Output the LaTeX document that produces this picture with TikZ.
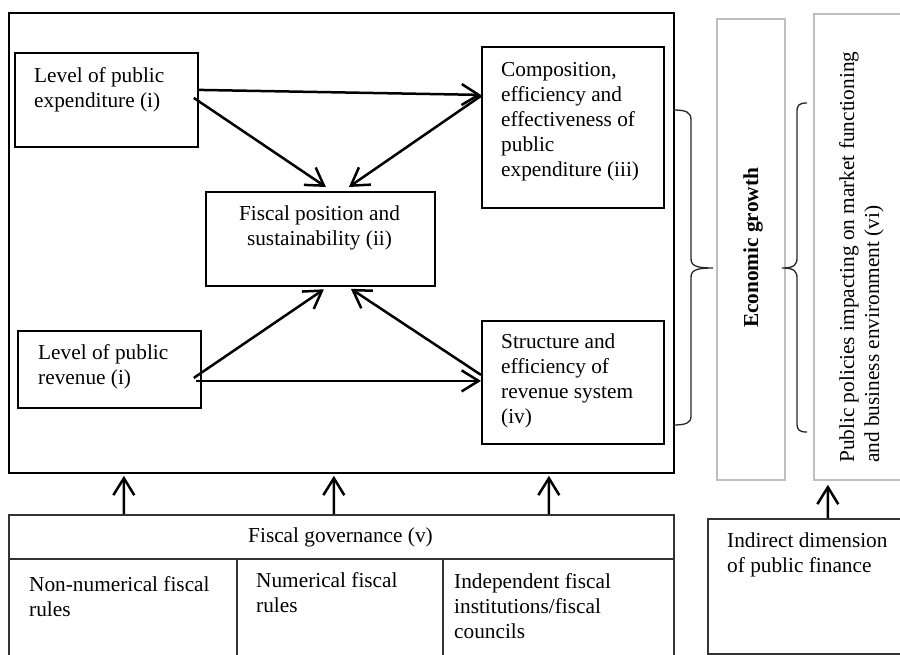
\documentclass[tikz,border=0pt]{standalone}
\usepackage{fontspec}
\setmainfont{Liberation Serif}
\usetikzlibrary{arrows.meta,calc}
\begin{document}
\begin{tikzpicture}[x=1pt,y=-1pt,
  box/.style={draw=black, line width=1.8pt, inner sep=0pt, rectangle, anchor=north west},
  gbox/.style={draw=black!80, line width=1.5pt, inner sep=0pt, rectangle, anchor=north west},
  graybox/.style={draw=black!25, line width=1.8pt, inner sep=0pt, rectangle, anchor=north west},
  txt/.style={inner sep=0pt, align=left, font=\fontsize{21.3}{25}\selectfont},
  ctxt/.style={inner sep=0pt, align=center, font=\fontsize{21.3}{25}\selectfont},
  arr/.style={line width=2.5pt, -{Straight Barb[length=17pt,width=21pt]}},
  bracepath/.style={line width=1.3pt, draw=black!85}
]
\useasboundingbox (0,0) rectangle (900,654);
\clip (0,0) rectangle (900,654);

% main frame and inner boxes
\node[box, minimum width=665pt, minimum height=460pt] (outer) at (8,12) {};
\node[box, minimum width=183pt, minimum height=94pt] (exp) at (14,52) {};
\node[box, minimum width=229pt, minimum height=94pt] (fisc) at (205,191) {};
\node[box, minimum width=182pt, minimum height=161pt] (comp) at (481,46) {};
\node[box, minimum width=183pt, minimum height=77pt] (rev) at (17,330) {};
\node[box, minimum width=182pt, minimum height=123pt] (struct) at (481,320) {};

% fiscal governance
\node[gbox, minimum width=665pt, minimum height=44pt] (gov) at (8,514) {};
\node[gbox, minimum width=228pt, minimum height=100pt] (c1) at (8,558) {};
\node[gbox, minimum width=206pt, minimum height=100pt] (c2) at (236,558) {};
\node[gbox, minimum width=231pt, minimum height=100pt] (c3) at (442,558) {};

% right-hand column
\node[graybox, minimum width=68pt, minimum height=461pt] (econ) at (716,18) {};
\node[graybox, minimum width=100pt, minimum height=466pt] (pol) at (813,13) {};
\node[gbox, minimum width=210pt, minimum height=135pt] (ind) at (707,518) {};

% texts
\node[txt, anchor=north west] (texp) at (34,67) {Level of public\\expenditure (i)};
\node[ctxt, anchor=north] (tfisc) at (319.5,206) {Fiscal position and\\sustainability (ii)};
\node[txt, anchor=north west] (tcomp) at (501,62) {Composition,\\efficiency and\\effectiveness of\\public\\expenditure (iii)};
\node[txt, anchor=north west] (trev) at (38,344) {Level of public\\revenue (i)};
\node[txt, anchor=north west] (tstruct) at (501,334) {Structure and\\efficiency of\\revenue system\\(iv)};
\node[ctxt, anchor=north] (tgov) at (340.5,528) {Fiscal governance (v)};
\node[txt, anchor=north west] (tc1) at (29,576) {Non-numerical fiscal\\rules};
\node[txt, anchor=north west] (tc2) at (256,572) {Numerical fiscal\\rules};
\node[txt, anchor=north west] (tc3) at (454,573) {Independent fiscal\\institutions/fiscal\\councils};
\node[txt, anchor=north west] (tind) at (727,533) {Indirect dimension\\of public finance};
\node[ctxt, rotate=90, font=\fontsize{21.3}{25}\selectfont\bfseries] (tecon) at (753,248) {Economic growth};
\node[txt, rotate=90, anchor=north west] (tpol) at (839,463) {Public policies impacting on market functioning\\and business environment (vi)};

% arrows among the boxes
\draw[arr] ([yshift=10pt]exp.east) -- ([yshift=32.5pt]comp.west);
\draw[arr] ([shift={(-5pt,2pt)}]exp.east) -- ([shift={(5.5pt,4pt)}]fisc.north);
\draw[arr] ([yshift=31.5pt]comp.west) -- ([shift={(28.5pt,4pt)}]fisc.north);
\draw[arr] ([shift={(-8pt,-8.5pt)}]rev.east) -- ([shift={(3.5pt,-2.5pt)}]fisc.south);
\draw[arr] ([yshift=7.5pt]struct.west) -- ([shift={(30.5pt,-2pt)}]fisc.south);
\draw[arr] ([shift={(-6pt,-11.5pt)}]rev.east) -- ([yshift=1.5pt]struct.west);

% governance arrows
\draw[arr] ([xshift=-217.5pt]gov.north) -- ([xshift=-217.5pt,yshift=-2pt]outer.south);
\draw[arr] ([xshift=-7.5pt]gov.north) -- ([xshift=-7.5pt,yshift=-2pt]outer.south);
\draw[arr] ([xshift=207.5pt]gov.north) -- ([xshift=207.5pt,yshift=-2pt]outer.south);
\draw[arr] ([xshift=15pt]ind.north) -- ([xshift=-36pt,yshift=-4pt]pol.south);

% braces
\draw[bracepath] (673,110) .. controls (686,110) and (691,112) .. (691,120)
  -- (691,258) .. controls (691,265) and (694,268) .. (713,268)
  .. controls (694,268) and (691,271) .. (691,278)
  -- (691,416) .. controls (691,423) and (686,425) .. (673,425);
\draw[bracepath] (807,103) .. controls (799,103) and (797,105) .. (797,112)
  -- (797,258) .. controls (797,265) and (794,268) .. (782,268)
  .. controls (794,268) and (797,271) .. (797,278)
  -- (797,423) .. controls (797,430) and (799,432) .. (807,432);
\end{tikzpicture}
\end{document}
